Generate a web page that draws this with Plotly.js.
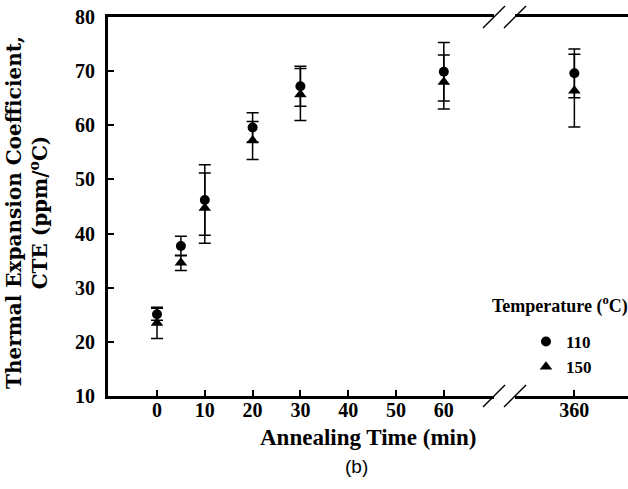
<!DOCTYPE html>
<html>
<head>
<meta charset="utf-8">
<script src="https://cdn.plot.ly/plotly-3.0.1.min.js"></script>
<style>html,body{margin:0;padding:0;background:#fff;}#chart{width:628px;height:489px;}</style>
</head>
<body>
<div id="chart"></div>
<script>
// Data
const times   = [0, 5, 10, 20, 30, 60, 360];
const cte110  = [25.1, 37.7, 46.2, 59.6, 67.2, 69.9, 69.6];
const err110  = [1.1, 1.8, 6.5, 2.7, 3.7, 5.4, 4.5];
const cte150  = [23.5, 34.6, 44.7, 57.2, 65.7, 68.0, 66.4];
const err150  = [2.9, 1.4, 6.5, 3.5, 4.8, 5.0, 6.7];
const seriesNames = ['110', '150'];
const xTicksLeft = [0, 10, 20, 30, 40, 50, 60];
const xTicksRight = [360];
const breakAt = 100; // times above this go on the right-hand (broken) axis

const serif = 'Liberation Serif, Times New Roman, serif';

function split(xs, ys, es, right) {
  const o = {x: [], y: [], e: []};
  xs.forEach((t, i) => {
    if ((t > breakAt) === right) { o.x.push(t); o.y.push(ys[i]); o.e.push(es[i]); }
  });
  return o;
}

const series = [
  {name: seriesNames[0], y: cte110, e: err110, symbol: 'circle', size: 10},
  {name: seriesNames[1], y: cte150, e: err150, symbol: 'triangle-up', size: 11}
];

const traces = [];
series.forEach(s => {
  [false, true].forEach(right => {
    const d = split(times, s.y, s.e, right);
    traces.push({
      type: 'scatter', mode: 'markers',
      x: d.x, y: d.y,
      xaxis: right ? 'x2' : 'x', yaxis: 'y',
      name: s.name, legendgroup: s.name, showlegend: !right,
      marker: {symbol: s.symbol, size: s.size, color: '#000'},
      error_y: {type: 'data', array: d.e, visible: true, color: '#000', thickness: 1.5, width: 6},
      cliponaxis: false
    });
  });
});

const L = 108, R = 628, T = 17, B = 396;
const W = R - L, H = B - T;
const px = v => (v - L) / W;
const py = v => (B - v) / H;

function slash(cx, cy) {
  return {type: 'line', xref: 'paper', yref: 'paper',
    x0: px(cx - 11), y0: py(cy + 11), x1: px(cx + 11), y1: py(cy - 11),
    line: {color: '#000', width: 1.5}};
}

const axisCommon = {
  showgrid: false, zeroline: false, showline: true, linecolor: '#000', linewidth: 3,
  ticks: 'inside', ticklen: 6, tickwidth: 2, tickcolor: '#000',
  tickfont: {family: serif, size: 20, color: '#000', weight: 'bold'},
  mirror: true, fixedrange: true
};

const layout = {
  width: 628, height: 489,
  margin: {l: L, r: 0, t: T, b: 489 - B, pad: 0},
  paper_bgcolor: '#fff', plot_bgcolor: '#fff',
  showlegend: true,
  xaxis: Object.assign({}, axisCommon, {
    domain: [0, px(494)], range: [-10.25, 70.5],
    tickmode: 'array', tickvals: xTicksLeft, ticktext: xTicksLeft.map(String),
    anchor: 'y', ticklabelstandoff: -6
  }),
  xaxis2: Object.assign({}, axisCommon, {
    domain: [px(515), 1], range: [347.6, 371.2],
    tickmode: 'array', tickvals: xTicksRight, ticktext: xTicksRight.map(String),
    anchor: 'y', ticklabelstandoff: -6
  }),
  yaxis: Object.assign({}, axisCommon, {
    range: [10, 80], dtick: 10, tick0: 10, mirror: false,
    anchor: 'x', ticklabelstandoff: 6
  }),
  legend: {
    x: px(526), xanchor: 'left', y: py(324), yanchor: 'top',
    bgcolor: 'rgba(0,0,0,0)', borderwidth: 0,
    font: {family: serif, size: 17, color: '#000', weight: 'bold'},
    tracegroupgap: 0, itemwidth: 30
  },
  shapes: [slash(494, B), slash(515, B), slash(494, T), slash(515, T)],
  annotations: [
    {text: 'Annealing Time (min)', xref: 'paper', yref: 'paper', x: 0.5, y: py(437),
     xanchor: 'center', yanchor: 'middle', showarrow: false,
     font: {family: serif, size: 23, color: '#000', weight: 'bold'}},
    {text: 'Thermal Expansion Coefficient,<br>CTE (ppm/<sup>o</sup>C)', xref: 'paper', yref: 'paper',
     x: px(27), y: py(213), xanchor: 'center', yanchor: 'middle', textangle: -90, showarrow: false,
     font: {family: 'DejaVu Serif, serif', size: 20, color: '#000', weight: 'bold'}},
    {text: 'Temperature (<sup>o</sup>C)', xref: 'paper', yref: 'paper', x: px(490), y: py(305),
     xanchor: 'left', yanchor: 'middle', showarrow: false,
     font: {family: serif, size: 18, color: '#000', weight: 'bold'}},
    {text: '(b)', xref: 'paper', yref: 'paper', x: px(356), y: py(466),
     xanchor: 'center', yanchor: 'middle', showarrow: false,
     font: {family: 'Liberation Sans, Arial, sans-serif', size: 19, color: '#000'}}
  ]
};

Plotly.newPlot('chart', traces, layout, {staticPlot: true, displayModeBar: false});
</script>
</body>
</html>
